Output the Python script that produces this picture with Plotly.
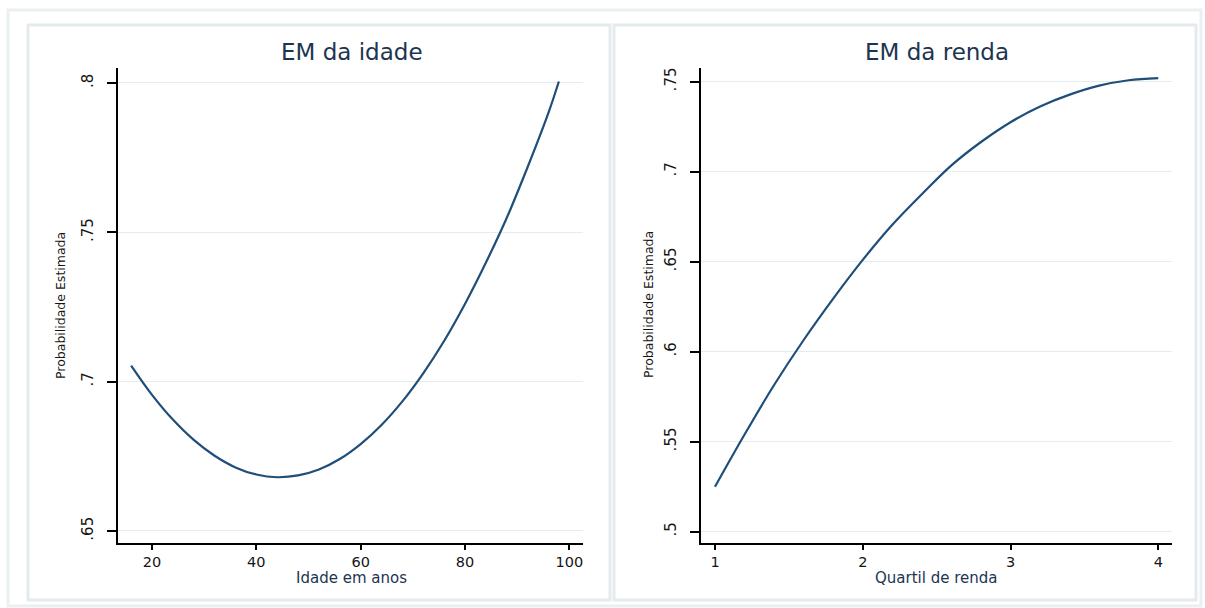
import plotly.graph_objects as go

# ---------------- data ----------------
age = [16, 20, 24, 28, 32, 36, 40, 44, 48, 52, 56, 60, 64, 68, 72, 76, 80, 84, 88, 92, 96, 98]
prob_age = [0.7054, 0.6956, 0.6873, 0.6805, 0.6752, 0.6713, 0.6689, 0.6680, 0.6686, 0.6706,
            0.6741, 0.6791, 0.6855, 0.6934, 0.7028, 0.7136, 0.7260, 0.7398, 0.7548, 0.7718,
            0.7900, 0.8005]

quartil = [1.0, 1.2, 1.4, 1.6, 1.8, 2.0, 2.2, 2.4, 2.6, 2.8, 3.0, 3.2, 3.4, 3.6, 3.8, 4.0]
prob_renda = [0.5250, 0.5540, 0.5815, 0.6065, 0.6295, 0.6510, 0.6705, 0.6875, 0.7035, 0.7165,
              0.7275, 0.7362, 0.7428, 0.7478, 0.7508, 0.7520]

age_xticks = [20, 40, 60, 80, 100]
age_yticks = [0.65, 0.70, 0.75, 0.80]
age_ylabels = [".65", ".7", ".75", ".8"]

renda_xticks = [1, 2, 3, 4]
renda_yticks = [0.50, 0.55, 0.60, 0.65, 0.70, 0.75]
renda_ylabels = [".5", ".55", ".6", ".65", ".7", ".75"]

titles = ["EM da idade", "EM da renda"]
xtitles = ["Idade em anos", "Quartil de renda"]
ytitle = "Probabilidade Estimada"

# ---------------- layout helpers ----------------
W, H = 1205, 608
def fx(p):
    return p / W
def fy(p):
    return 1 - p / H

FONT = "DejaVu Sans"
LINE_COLOR = "#1f4e79"
GRID = "#e3ecef"
BORDER = "#e3ebee"
TITLE_COLOR = "#1c3550"
TEXT = "#151515"

fig = go.Figure()
fig.add_trace(go.Scatter(x=age, y=prob_age, mode="lines",
                         line=dict(color=LINE_COLOR, width=2.2, shape="spline", smoothing=1),
                         xaxis="x", yaxis="y", showlegend=False))
fig.add_trace(go.Scatter(x=quartil, y=prob_renda, mode="lines",
                         line=dict(color=LINE_COLOR, width=2.2, shape="spline", smoothing=1),
                         xaxis="x2", yaxis="y2", showlegend=False))

ydom = [fy(543), fy(68)]

common_x = dict(ticks="outside", ticklen=5, tickwidth=1.5, tickcolor="black",
                showline=True, linecolor="black", linewidth=2, showgrid=False,
                zeroline=False, tickfont=dict(family=FONT, size=14.5, color=TEXT))
common_y = dict(ticks="outside", ticklen=9, tickwidth=1.5, tickcolor="black",
                showline=True, linecolor="black", linewidth=2, showgrid=True,
                gridcolor=GRID, gridwidth=1, zeroline=False, tickangle=-90,
                ticklabelstandoff=8,
                tickfont=dict(family=FONT, size=15, color=TEXT))

fig.update_layout(
    width=W, height=H,
    margin=dict(l=0, r=0, t=0, b=0),
    paper_bgcolor="white", plot_bgcolor="rgba(0,0,0,0)",
    xaxis=dict(domain=[fx(118), fx(583)], range=[13.48, 102.63],
               tickvals=age_xticks, anchor="y", **common_x),
    yaxis=dict(domain=ydom, range=[0.64598, 0.80502],
               tickvals=age_yticks, ticktext=age_ylabels, anchor="x", **common_y),
    xaxis2=dict(domain=[fx(701), fx(1172)], range=[0.9053, 4.0927],
                tickvals=renda_xticks, anchor="y2", **common_x),
    yaxis2=dict(domain=ydom, range=[0.49372, 0.75761],
                tickvals=renda_yticks, ticktext=renda_ylabels, anchor="x2", **common_y),
)

# borders: outer region and the two panels
def rect(x0, y0, x1, y1, color, width):
    fig.add_shape(type="rect", xref="paper", yref="paper",
                  x0=fx(x0), x1=fx(x1), y0=fy(y1), y1=fy(y0),
                  line=dict(color=color, width=width), fillcolor="rgba(0,0,0,0)",
                  layer="below")

rect(8, 10, 1201, 606, "#eaf0f2", 3)
rect(28, 25, 610, 600, BORDER, 3)
rect(614, 25, 1196, 600, BORDER, 3)

# titles and axis titles
for cx, t, xt in [(352, titles[0], xtitles[0]), (937, titles[1], xtitles[1])]:
    fig.add_annotation(text=t, x=fx(cx), y=fy(52), xref="paper", yref="paper",
                       showarrow=False, xanchor="center", yanchor="middle",
                       font=dict(family=FONT, size=23, color=TITLE_COLOR))
    fig.add_annotation(text=xt, x=fx(cx - 1), y=fy(578), xref="paper", yref="paper",
                       showarrow=False, xanchor="center", yanchor="middle",
                       font=dict(family=FONT, size=15, color=TITLE_COLOR))

for cx in [60, 648]:
    fig.add_annotation(text=ytitle, x=fx(cx), y=fy(305), xref="paper", yref="paper",
                       showarrow=False, textangle=-90, xanchor="center", yanchor="middle",
                       font=dict(family=FONT, size=12.5, color=TEXT))

fig.write_html("out.html", config={"displayModeBar": False},
               post_script="document.body.style.margin='0';document.body.style.padding='0';")
